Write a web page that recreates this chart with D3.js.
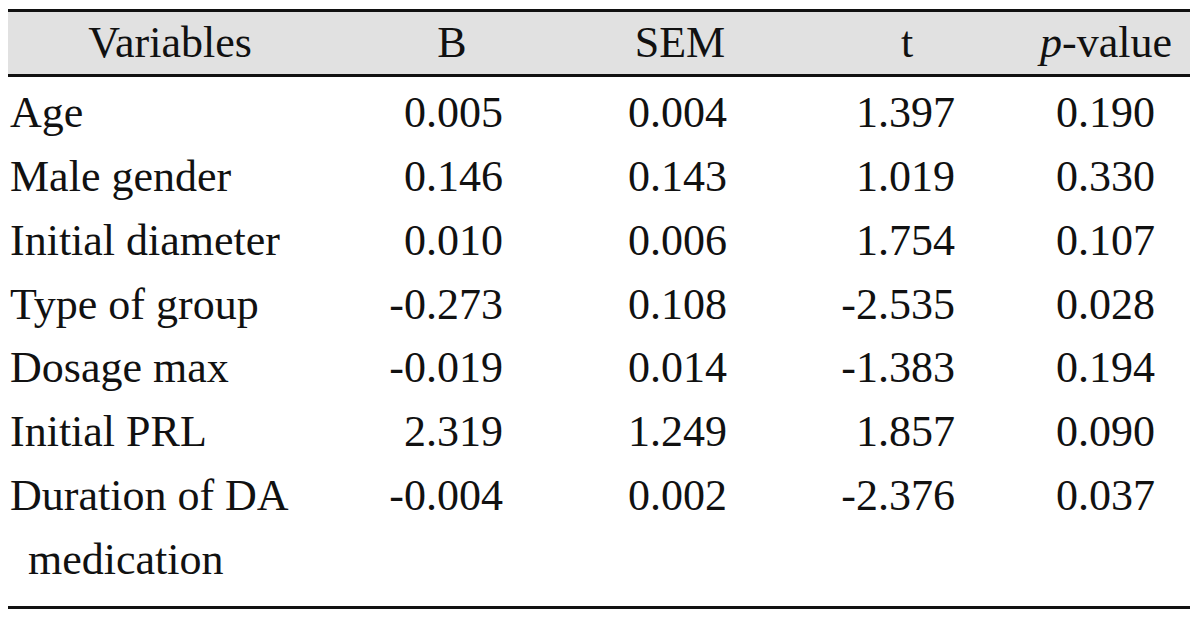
<!DOCTYPE html>
<html>
<head>
<meta charset="utf-8">
<script src="https://cdn.jsdelivr.net/npm/d3@7"></script>
<style>
  body { margin: 0; background: #fff; }
  svg text { font-family: "Liberation Serif", "DejaVu Serif", serif; fill: #111; }
</style>
</head>
<body>
<svg id="tbl" width="1200" height="621"></svg>
<script>
// table content
let headers = ["Variables", "B", "SEM", "t", "p-value"];
let variables = ["Age", "Male gender", "Initial diameter", "Type of group", "Dosage max", "Initial PRL", "Duration of DA"];
let bValues = ["0.005", "0.146", "0.010", "-0.273", "-0.019", "2.319", "-0.004"];
let semValues = ["0.004", "0.143", "0.006", "0.108", "0.014", "1.249", "0.002"];
let tValues = ["1.397", "1.019", "1.754", "-2.535", "-1.383", "1.857", "-2.376"];
let pValues = ["0.190", "0.330", "0.107", "0.028", "0.194", "0.090", "0.037"];
let wrapLine = "medication"; // second line of the last variable

let svg = d3.select("#tbl");
let fontSize = 44;

// horizontal layout
let left = 8, right = 1190;
let headerCenter = d3.scaleOrdinal().domain(headers).range([170, 452, 680, 907, 1106]);
let numRight = d3.scaleOrdinal().domain(["B", "SEM", "t", "p-value"]).range([503, 727, 955, 1155]);

// vertical layout: row index -> text baseline
let rowY = d3.scaleLinear().domain([0, 7]).range([127, 574]);

// header band
svg.append("rect")
    .attr("x", left)
    .attr("y", 11)
    .attr("width", right - left)
    .attr("height", 64)
    .attr("fill", "#e1e1e1");

// rules
svg.selectAll(".rule")
    .data([10.5, 75.5, 607.5])
    .enter().append("line")
    .attr("class", "rule")
    .attr("x1", left)
    .attr("x2", right)
    .attr("y1", d => d)
    .attr("y2", d => d)
    .attr("stroke", "#111")
    .attr("stroke-width", 3);

// header labels
let head = svg.selectAll(".head")
    .data(headers)
    .enter().append("text")
    .attr("class", "head")
    .attr("x", d => headerCenter(d))
    .attr("y", 57)
    .attr("text-anchor", "middle")
    .attr("font-size", fontSize);

head.each(function (d) {
    let el = d3.select(this);
    if (d === "p-value") {
        el.append("tspan").attr("font-style", "italic").text("p");
        el.append("tspan").text("-value");
    } else {
        el.text(d);
    }
});

// variable names
svg.selectAll(".var")
    .data(variables)
    .enter().append("text")
    .attr("class", "var")
    .attr("x", left + 2)
    .attr("y", (d, i) => rowY(i))
    .attr("font-size", fontSize)
    .text(d => d);

svg.append("text")
    .attr("x", left + 20)
    .attr("y", rowY(7))
    .attr("font-size", fontSize)
    .text(wrapLine);

// numeric columns
let columns = [
    { key: "B", values: bValues },
    { key: "SEM", values: semValues },
    { key: "t", values: tValues },
    { key: "p-value", values: pValues }
];

columns.forEach(function (col) {
    svg.selectAll(".num-" + col.key.replace("-", ""))
        .data(col.values)
        .enter().append("text")
        .attr("class", "num-" + col.key.replace("-", ""))
        .attr("x", numRight(col.key))
        .attr("y", (d, i) => rowY(i))
        .attr("text-anchor", "end")
        .attr("font-size", fontSize)
        .text(d => d);
});
</script>
</body>
</html>
